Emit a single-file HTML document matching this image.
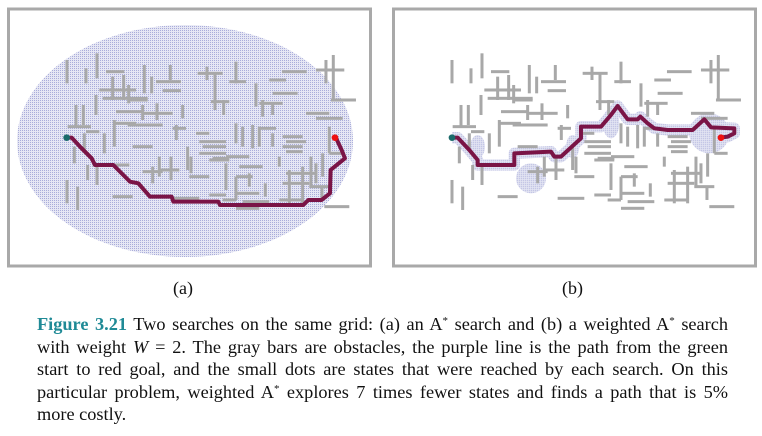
<!DOCTYPE html>
<html><head><meta charset="utf-8">
<style>
body{margin:0;background:#fff;width:762px;height:436px;overflow:hidden;position:relative;font-family:"Liberation Serif",serif;}
#fig{position:absolute;left:0;top:0;}
.cap{position:absolute;left:37px;width:691px;font-size:18.3px;line-height:22.5px;color:#111;white-space:nowrap;}
.j{text-align:justify;text-align-last:justify;}
.fn{color:#1f8a96;font-weight:bold;}
sup{font-size:11px;line-height:0;vertical-align:6px;}
.lab{position:absolute;font-size:18px;color:#111;}
</style></head><body>
<svg id="fig" width="762" height="280" viewBox="0 0 762 280">
<defs>
<pattern id="dots" width="2" height="2" patternUnits="userSpaceOnUse">
<rect width="2" height="2" fill="#e6e7f4"/><rect width="1" height="1" fill="#a9acda"/>
</pattern>
</defs>
<g id="panelA">
<rect x="8.5" y="9" width="362" height="257" fill="#fff" stroke="#a9a9a9" stroke-width="3"/>
<ellipse cx="185" cy="141" rx="168" ry="116" fill="url(#dots)"/>
<g id="obsA" transform="translate(-4,0) scale(0.3333)"></g>
<g id="pathA" transform="scale(0.3333)"></g>
</g>
<g id="panelB">
<rect x="393.5" y="9" width="362" height="257" fill="#fff" stroke="#a9a9a9" stroke-width="3"/>
<g id="expB" transform="translate(381,0) scale(0.3333)"></g>
<g id="obsB" transform="translate(381,0) scale(0.3333)"></g>
<g id="pathB" transform="translate(381,0) scale(0.3333)"></g>
</g>
</svg>
<div class="lab" style="left:173px;top:278px">(a)</div>
<div class="lab" style="left:562px;top:278px">(b)</div>
<div class="cap j" style="top:313px"><span class="fn">Figure 3.21</span> Two searches on the same grid: (a) an A<sup>*</sup> search and (b) a weighted A<sup>*</sup> search</div>
<div class="cap j" style="top:335.5px">with weight <i>W</i> = 2. The gray bars are obstacles, the purple line is the path from the green</div>
<div class="cap j" style="top:358px">start to red goal, and the small dots are states that were reached by each search. On this</div>
<div class="cap j" style="top:380.5px">particular problem, weighted A<sup>*</sup> explores 7 times fewer states and finds a path that is 5%</div>
<div class="cap" style="top:403px">more costly.</div>
<script>
// obstacle bars in grid units (x, y1, y2) / (y, x1, x2)
const vBars=[[213,180,250],[270,205,250],[303,160,235],[240,315,380],[262,315,375],[300,285,345],[350,230,300],[383,225,300],[398,255,310],[445,195,280],[467,230,280],[523,195,240],[440,315,360],[483,310,360],[560,315,355],[541,375,420],[633,200,240],[657,220,330],[720,185,250],[683,300,345],[780,250,320],[800,300,350],[830,310,345],[740,380,440],[770,375,445],[790,380,440],[830,400,440],[720,370,430],[990,180,250],[1012,165,300],[355,360,440],[325,400,460],[265,400,450],[235,440,490],[275,495,540],[303,500,555],[213,540,610],[245,560,630],[490,470,530],[525,470,540],[585,470,520],[575,440,510],[690,490,570],[720,530,600],[760,520,560],[808,550,590],[880,510,610],[920,500,610],[945,470,560],[960,490,550],[1000,380,460],[980,460,530],[850,470,500],[978,560,600],[470,500,550]];
const hBars=[[215,330,385],[245,480,555],[272,500,555],[220,605,680],[245,700,750],[240,820,870],[215,858,932],[280,830,905],[210,960,1045],[300,1005,1080],[270,310,420],[295,320,455],[300,400,455],[305,645,700],[310,790,860],[335,360,440],[340,440,530],[370,355,420],[375,395,500],[385,530,570],[380,215,285],[395,270,310],[400,600,640],[425,610,690],[440,620,690],[460,610,690],[470,690,760],[385,790,840],[410,860,920],[425,870,930],[440,860,920],[455,870,920],[460,1000,1040],[340,930,1000],[355,960,1040],[495,290,400],[440,410,470],[515,440,500],[510,490,550],[475,650,700],[530,580,640],[500,730,800],[550,860,940],[530,720,770],[580,720,790],[590,350,410],[595,530,610],[585,640,690],[600,680,720],[605,740,820],[600,850,920],[625,720,790],[620,985,1060],[480,640,700],[520,870,960],[560,940,1000]];
const pathAPts=[[200,413],[215,413],[240,440],[275,475],[285,495],[340,495],[390,545],[415,550],[450,590],[515,590],[520,605],[655,605],[660,615],[910,615],[925,600],[965,600],[990,580],[992,510],[1035,475],[1025,450],[1010,418],[1005,413]];
const pathBPts=[[213,413],[230,413],[265,450],[290,480],[290,495],[400,495],[400,460],[510,455],[520,470],[540,470],[600,415],[600,380],[660,380],[690,345],[710,318],[730,345],[740,358],[770,358],[778,350],[800,370],[820,385],[860,390],[935,390],[970,358],[990,382],[1060,385],[1060,400],[1040,410],[1020,413]];
const blobsB=[[450,535,45,45],[690,370,25,45],[985,400,60,60],[290,440,22,35],[575,440,20,35]];
const NS='http://www.w3.org/2000/svg';
function mk(t,a){const e=document.createElementNS(NS,t);for(const k in a)e.setAttribute(k,a[k]);return e;}
function drawObs(g){
  vBars.forEach(b=>{const r=mk('rect',{x:b[0]-4.5,y:b[1],width:9,height:b[2]-b[1],fill:'#a8a8a8'});
    
    g.appendChild(r);});
  hBars.forEach(b=>{const r=mk('rect',{x:b[1],y:b[0]-4.5,width:b[2]-b[1],height:9,fill:'#a8a8a8'});
    
    g.appendChild(r);});
}
drawObs(document.getElementById('obsA'));
drawObs(document.getElementById('obsB'));
function drawPath(g,pts){
  const p=mk('polyline',{points:pts.map(q=>q.join(',')).join(' '),fill:'none',stroke:'#7a1446','stroke-width':12,'stroke-linejoin':'round'});
  
  g.appendChild(p);
  const s=pts[0],e=pts[pts.length-1];
  const c1=mk('circle',{cx:s[0],cy:s[1],r:10,fill:'#1b6b6b'});
  
  g.appendChild(c1);
  const c2=mk('circle',{cx:e[0],cy:e[1],r:10,fill:'#ee1111'});
  
  g.appendChild(c2);
}
drawPath(document.getElementById('pathA'),pathAPts);
drawPath(document.getElementById('pathB'),pathBPts);
const eg=document.getElementById('expB');
const ep=mk('polyline',{points:pathBPts.map(q=>q.join(',')).join(' '),fill:'none',stroke:'url(#dots)','stroke-width':34,'stroke-linejoin':'round'});

eg.appendChild(ep);
blobsB.forEach(b=>{const el=mk('ellipse',{cx:b[0],cy:b[1],rx:b[2],ry:b[3],fill:'url(#dots)'});
  
  eg.appendChild(el);});
</script>
</body></html>
